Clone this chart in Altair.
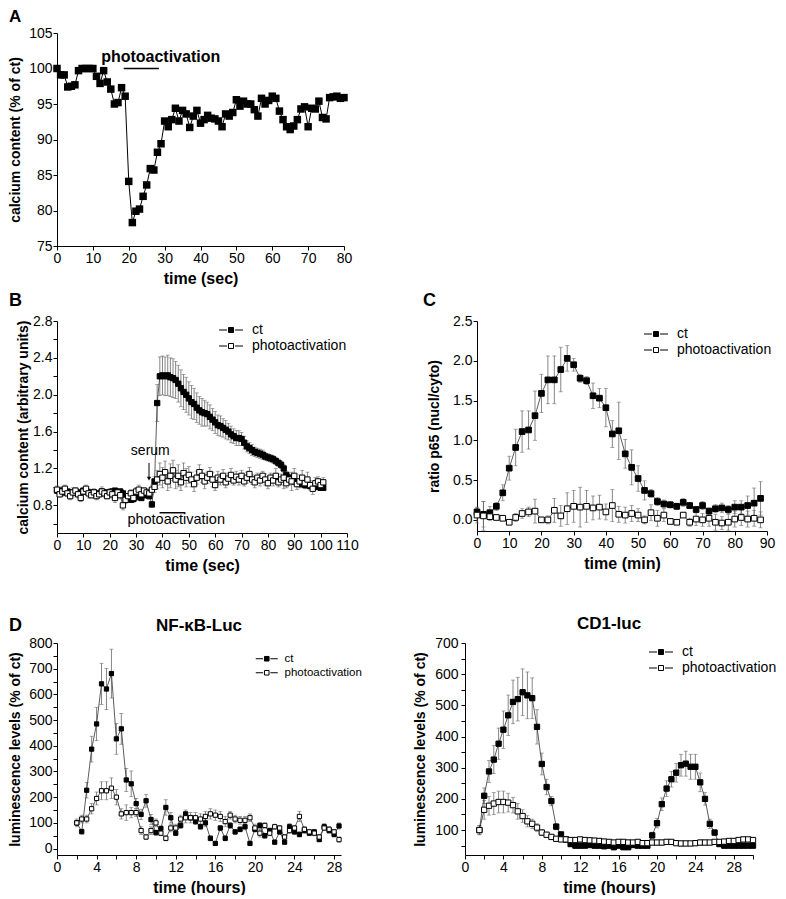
import altair as alt
import pandas as pd

FONT = "Liberation Sans"
SERIES = ["ct", "photoactivation"]
FILLS = ["black", "white"]
LEG_PATH = "M-4.8,0H-1.6M1.6,0H4.8M-1,-1H1V1H-1Z"

# ---------------- Panel A ----------------
A_TIME = list(range(0, 81))
A_CT = [100.0, 99.1, 99.1, 97.4, 97.5, 97.7, 99.7, 100.0, 100.0, 100.0,
        100.0, 98.9, 97.9, 99.7, 98.1, 97.1, 95.0, 95.2, 97.3, 96.1,
        84.1, 78.3, 79.9, 80.2, 82.0, 83.6, 85.9, 85.7, 88.2, 89.4,
        92.6, 91.8, 92.8, 94.4, 92.6, 94.1, 93.6, 91.7, 93.3, 94.1,
        92.3, 92.8, 93.4, 93.0, 92.9, 92.6, 91.8, 93.6, 93.3, 93.8,
        95.6, 94.7, 95.4, 95.0, 95.0, 94.2, 93.3, 95.8, 95.0, 95.5,
        96.1, 95.8, 94.0, 92.8, 91.8, 91.4, 91.9, 92.8, 94.3, 94.6,
        91.8, 94.4, 94.3, 95.4, 93.1, 92.9, 95.9, 96.0, 96.1, 95.8,
        95.9]
A_BAR_X = [18.6]
A_BAR_X2 = [28.4]
A_BAR_Y = [100.0]
A_LABEL = ["photoactivation"]
A_LABEL_X = [28.9]
A_LABEL_Y = [101.6]
PANEL_A = ["A"]

# ---------------- Panel B ----------------
B_TIME = list(range(0, 102))
B_CT = [0.96, 0.95, 0.96, 0.94, 0.95, 0.93, 0.94, 0.95, 0.93, 0.94,
        0.96, 0.95, 0.94, 0.93, 0.94, 0.92, 0.93, 0.95, 0.94, 0.93,
        0.94, 0.95, 0.96, 0.94, 0.95, 0.93, 0.90, 0.88, 0.86, 0.87,
        0.89, 0.90, 0.88, 0.91, 0.92, 0.90, 0.81, 1.06, 1.91, 2.20,
        2.21, 2.20, 2.21, 2.19, 2.18, 2.16, 2.12, 2.07, 2.03, 2.00,
        1.96, 1.92, 1.90, 1.86, 1.83, 1.81, 1.80, 1.79, 1.76, 1.73,
        1.70, 1.67, 1.66, 1.64, 1.62, 1.60, 1.57, 1.55, 1.53, 1.53,
        1.52, 1.48, 1.44, 1.42, 1.40, 1.38, 1.37, 1.36, 1.35, 1.33,
        1.32, 1.31, 1.30, 1.28, 1.26, 1.24, 1.20, 1.13, 1.10, 1.08,
        1.06, 1.05, 1.04, 1.03, 1.02, 1.02, 1.01, 1.01, 1.00, 1.00,
        0.99, 0.99]
B_CT_ERR = [0.03, 0.02, 0.03, 0.03, 0.02, 0.03, 0.03, 0.02, 0.03, 0.03,
            0.02, 0.03, 0.03, 0.02, 0.03, 0.03, 0.02, 0.03, 0.03, 0.02,
            0.03, 0.03, 0.02, 0.03, 0.03, 0.02, 0.03, 0.03, 0.02, 0.03,
            0.03, 0.02, 0.03, 0.03, 0.02, 0.03, 0.03, 0.05, 0.20, 0.21,
            0.21, 0.21, 0.22, 0.21, 0.21, 0.20, 0.20, 0.20, 0.19, 0.19,
            0.18, 0.18, 0.17, 0.16, 0.15, 0.15, 0.14, 0.13, 0.13, 0.12,
            0.12, 0.11, 0.11, 0.10, 0.10, 0.09, 0.09, 0.08, 0.08, 0.08,
            0.07, 0.07, 0.06, 0.06, 0.06, 0.05, 0.05, 0.05, 0.05, 0.04,
            0.04, 0.04, 0.04, 0.04, 0.04, 0.04, 0.04, 0.04, 0.03, 0.03,
            0.03, 0.03, 0.03, 0.03, 0.03, 0.03, 0.03, 0.03, 0.03, 0.03,
            0.03, 0.03]
B_PH = [0.97, 0.92, 0.95, 0.98, 0.93, 0.90, 0.94, 0.96, 0.92, 0.88,
        0.95, 0.98, 0.93, 0.91, 0.94, 0.90, 0.92, 0.95, 0.93, 0.90,
        0.94, 0.92, 0.88, 0.94, 0.91, 0.80, 0.86, 0.90, 0.93, 0.88,
        0.95, 0.97, 0.92, 0.96, 0.94, 0.93, 0.97, 1.00, 1.08, 1.14,
        1.10, 1.16, 1.06, 1.12, 1.18, 1.08, 1.12, 1.05, 1.15, 1.10,
        1.13, 1.08, 1.03, 1.10, 1.16, 1.12, 1.06, 1.10, 1.14, 1.08,
        1.02, 1.10, 1.08, 1.12, 1.05, 1.09, 1.13, 1.07, 1.11, 1.08,
        1.12, 1.06, 1.10, 1.14, 1.08, 1.05, 1.10, 1.07, 1.12, 1.08,
        1.04, 1.10, 1.07, 1.12, 1.05, 1.08, 1.10, 1.04, 1.08, 1.06,
        1.12, 1.03, 1.06, 1.10, 1.04, 1.08, 1.02, 0.98, 1.04, 1.06,
        1.02, 1.05]
B_PH_ERR = [0.04, 0.03, 0.05, 0.04, 0.03, 0.04, 0.05, 0.03, 0.04, 0.04,
            0.03, 0.04, 0.05, 0.03, 0.04, 0.04, 0.03, 0.05, 0.04, 0.03,
            0.04, 0.04, 0.05, 0.03, 0.04, 0.05, 0.04, 0.03, 0.04, 0.05,
            0.04, 0.05, 0.04, 0.03, 0.04, 0.04, 0.05, 0.06, 0.10, 0.12,
            0.11, 0.12, 0.10, 0.13, 0.11, 0.10, 0.12, 0.09, 0.11, 0.10,
            0.09, 0.08, 0.08, 0.07, 0.08, 0.07, 0.08, 0.06, 0.07, 0.08,
            0.06, 0.07, 0.06, 0.07, 0.06, 0.06, 0.07, 0.05, 0.06, 0.06,
            0.06, 0.05, 0.06, 0.07, 0.05, 0.06, 0.05, 0.06, 0.05, 0.06,
            0.06, 0.05, 0.06, 0.08, 0.05, 0.06, 0.12, 0.05, 0.06, 0.10,
            0.08, 0.06, 0.07, 0.08, 0.06, 0.08, 0.05, 0.06, 0.06, 0.05,
            0.06, 0.05]
B_SERUM = ["serum"]
B_SERUM_X = [35.4]
B_SERUM_Y = [1.39]
B_ARROW_X = [34.9]
B_ARROW_Y = [1.26]
B_ARROW_Y2 = [1.09]
B_BAR_X = [38.9]
B_BAR_X2 = [48.7]
B_BAR_Y = [0.72]
B_LABEL = ["photoactivation"]
B_LABEL_X = [45.2]
B_LABEL_Y = [0.64]

# ---------------- Panel C ----------------
C_TIME = list(range(0, 89, 2))
C_CT = [0.10, 0.07, 0.09, 0.17, 0.34, 0.65, 0.91, 1.11, 1.13, 1.31,
        1.59, 1.76, 1.76, 1.89, 2.03, 1.95, 1.78, 1.75, 1.56, 1.53,
        1.41, 1.08, 1.12, 0.83, 0.66, 0.52, 0.37, 0.33, 0.23, 0.20,
        0.19, 0.17, 0.22, 0.18, 0.13, 0.18, 0.11, 0.14, 0.15, 0.13,
        0.16, 0.16, 0.18, 0.21, 0.27]
C_CT_ERR = [0.05, 0.16, 0.08, 0.05, 0.10, 0.15, 0.23, 0.26, 0.24, 0.31,
            0.24, 0.30, 0.30, 0.28, 0.16, 0.08, 0.05, 0.05, 0.16, 0.12,
            0.24, 0.17, 0.36, 0.18, 0.22, 0.16, 0.12, 0.05, 0.05, 0.05,
            0.04, 0.04, 0.05, 0.04, 0.04, 0.05, 0.04, 0.05, 0.06, 0.05,
            0.08, 0.08, 0.12, 0.19, 0.21]
C_PH = [0.06, 0.05, 0.04, 0.03, 0.02, -0.03, 0.03, 0.08, 0.10, 0.11,
        0.00, 0.00, 0.12, 0.05, 0.14, 0.17, 0.16, 0.17, 0.15, 0.16,
        0.10, 0.18, 0.07, 0.06, 0.08, 0.06, 0.00, 0.09, 0.02, 0.06,
        -0.02, -0.03, 0.06, -0.03, 0.01, 0.00, 0.02, -0.03, -0.04, -0.03,
        0.01, 0.03, 0.01, 0.02, 0.00]
C_PH_ERR = [0.10, 0.18, 0.05, 0.03, 0.03, 0.03, 0.05, 0.06, 0.06, 0.15,
            0.03, 0.05, 0.15, 0.13, 0.20, 0.20, 0.25, 0.20, 0.15, 0.15,
            0.10, 0.20, 0.10, 0.10, 0.10, 0.08, 0.05, 0.10, 0.10, 0.08,
            0.03, 0.03, 0.03, 0.05, 0.08, 0.08, 0.10, 0.10, 0.08, 0.10,
            0.10, 0.10, 0.10, 0.10, 0.10]

# ---------------- Panel D (NF-kB-Luc) ----------------
DL_TIME = [2 + 0.5 * i for i in range(54)]
DL_CT = [100, 66, 227, 387, 485, 641, 621, 681, 427, 466,
         267, 252, 175, 133, 186, 113, 62, 78, 160, 120,
         60, 90, 135, 120, 105, 85, 100, 40, 20, 80,
         40, 90, 65, 75, 85, 20, 75, 90, 50, 70,
         25, 65, 25, 85, 65, 55, 70, 60, 65, 35,
         85, 70, 55, 88]
DL_CT_ERR = [10, 10, 30, 50, 65, 80, 80, 95, 60, 60,
             45, 50, 20, 20, 25, 20, 10, 10, 30, 20,
             10, 12, 15, 10, 12, 10, 15, 10, 8, 10,
             10, 12, 10, 10, 12, 8, 10, 12, 10, 10,
             8, 10, 8, 12, 10, 10, 10, 10, 10, 8,
             12, 10, 10, 12]
DL_PH = [100, 115, 115, 155, 195, 225, 225, 235, 200, 135,
         140, 140, 140, 70, 45, 70, 100, 60, 40, 80,
         80, 115, 120, 120, 120, 115, 125, 135, 130, 125,
         105, 130, 115, 110, 110, 120, 80, 60, 90, 60,
         85, 80, 45, 70, 80, 125, 75, 65, 60, 45,
         80, 75, 65, 35]
DL_PH_ERR = [15, 15, 15, 20, 25, 35, 35, 40, 30, 20,
             30, 20, 15, 15, 10, 15, 15, 10, 10, 15,
             15, 15, 20, 20, 20, 20, 20, 20, 20, 20,
             20, 15, 15, 15, 15, 15, 15, 15, 10, 10,
             10, 10, 10, 10, 10, 20, 10, 10, 10, 10,
             10, 10, 10, 10]
DL_TITLE = ["NF-\u03baB-Luc"]

# ---------------- Panel D (CD1-luc) ----------------
DR_TIME = [1.5 + 0.5 * i for i in range(58)]
DR_CT = [100, 210, 288, 326, 377, 422, 468, 511, 520, 542,
         532, 523, 431, 312, 238, 193, 111, 86, 70, 55,
         50, 50, 50, 52, 50, 50, 48, 50, 45, 50,
         45, 45, 52, 50, 50, 50, 83, 122, 183, 233,
         263, 284, 308, 313, 303, 303, 253, 200, 120, 92,
         55, 50, 50, 50, 50, 50, 50, 50]
DR_CT_ERR = [15, 25, 35, 45, 50, 60, 65, 70, 70, 75,
             75, 65, 55, 35, 25, 15, 10, 8, 8, 8,
             8, 8, 7, 8, 8, 7, 8, 8, 8, 7,
             8, 8, 8, 7, 8, 8, 10, 15, 20, 25,
             25, 30, 35, 40, 40, 40, 30, 20, 15, 10,
             8, 8, 7, 8, 8, 8, 7, 8]
DR_PH = [100, 165, 178, 185, 190, 190, 188, 180, 160, 145,
         128, 120, 108, 92, 85, 78, 72, 70, 70, 68,
         68, 70, 68, 67, 66, 65, 63, 62, 60, 62,
         62, 60, 60, 62, 58, 58, 60, 60, 60, 62,
         62, 58, 57, 57, 57, 58, 60, 60, 60, 62,
         62, 63, 65, 65, 68, 70, 70, 68]
DR_PH_ERR = [15, 30, 30, 35, 35, 35, 30, 25, 25, 20,
             18, 15, 12, 10, 8, 8, 8, 7, 8, 8,
             8, 7, 8, 8, 8, 7, 8, 8, 7, 8,
             8, 8, 7, 8, 8, 8, 7, 8, 8, 8,
             7, 8, 8, 8, 7, 8, 8, 8, 7, 8,
             8, 8, 7, 8, 8, 8, 7, 8]

PANEL_D = ["D"]


def frame(t, ct, ct_err, ph, ph_err):
    rows = []
    for name, vals, errs in (("ct", ct, ct_err), ("photoactivation", ph, ph_err)):
        for x, v, e in zip(t, vals, errs):
            rows.append({"t": x, "v": v, "lo": v - e, "hi": v + e, "s": name})
    return pd.DataFrame(rows)


def ax(title, values, fmt=None, expr=None, title_size=14, title_pad=6,
       label_pad=1, tick=4):
    kw = dict(title=title, values=values, grid=False, domainColor="black",
              domainWidth=1, tickColor="black", tickWidth=1, tickSize=tick,
              labelPadding=label_pad, labelFont=FONT, labelFontSize=14,
              labelColor="black", titleFont=FONT, titleFontSize=title_size,
              titleFontWeight="bold", titleColor="black", titlePadding=title_pad,
              labelOverlap=False, labelFlush=False)
    if fmt:
        kw["format"] = fmt
    if expr:
        kw["labelExpr"] = expr
    return alt.Axis(**kw)


def leg(x, y, fsize=14, ssize=25, lab_off=14, row_pad=2):
    return alt.Legend(title=None, orient="none", legendX=x, legendY=y,
                      symbolType=LEG_PATH, symbolSize=ssize,
                      symbolStrokeColor="black", symbolStrokeWidth=1,
                      symbolOffset=10, labelOffset=lab_off, labelFont=FONT,
                      labelFontSize=fsize, labelColor="black",
                      rowPadding=row_pad, padding=0, symbolOpacity=1)


def err_layers(df, xs, ys, xa, ya, psize, legend):
    base = alt.Chart(df)
    X = alt.X("t:Q", scale=xs, axis=xa)
    rule = base.mark_rule(color="#666", strokeWidth=0.8).encode(
        x=X, y=alt.Y("lo:Q", scale=ys, axis=ya), y2="hi:Q")
    cap_hi = base.mark_tick(orient="horizontal", color="#666", size=4,
                            thickness=0.8).encode(
        x=X, y=alt.Y("hi:Q", scale=ys, axis=ya))
    cap_lo = base.mark_tick(orient="horizontal", color="#666", size=4,
                            thickness=0.8).encode(
        x=X, y=alt.Y("lo:Q", scale=ys, axis=ya))
    line = base.mark_line(color="#333", strokeWidth=0.8).encode(
        x=X, y=alt.Y("v:Q", scale=ys, axis=ya), detail="s:N", order="t:Q")
    pts = base.mark_point(shape="square", filled=True, size=psize,
                          stroke="black", strokeWidth=1, opacity=1).encode(
        x=X, y=alt.Y("v:Q", scale=ys, axis=ya),
        fill=alt.Fill("s:N", scale=alt.Scale(domain=SERIES, range=FILLS),
                      legend=legend))
    return [rule, cap_hi, cap_lo, line, pts]


def letter_title(txt, dx, offset):
    return alt.TitleParams(text=txt, anchor="start", frame="group", dx=dx,
                           offset=offset, fontSize=18, font=FONT,
                           fontWeight="bold", color="black")


def letter_mark(lst, x, y, size=18):
    return alt.Chart(pd.DataFrame({"txt": lst})).mark_text(
        font=FONT, fontSize=size, fontWeight="bold", color="black", align="left",
        baseline="top").encode(text="txt:N", x=alt.value(x), y=alt.value(y))


# ---------- A ----------
dfA = pd.DataFrame({"t": A_TIME, "v": A_CT})
xsA = alt.Scale(domain=[0, 80], nice=False, zero=False)
ysA = alt.Scale(domain=[75, 105], nice=False, zero=False)
xaA = ax("time (sec)", list(range(0, 81, 10)), title_size=16, title_pad=5)
yaA = ax("calcium content (% of ct)", list(range(75, 106, 5)), title_pad=6)
XA = alt.X("t:Q", scale=xsA, axis=xaA)
YA = alt.Y("v:Q", scale=ysA, axis=yaA)
lineA = alt.Chart(dfA).mark_line(color="black", strokeWidth=1).encode(x=XA, y=YA)
ptsA = alt.Chart(dfA).mark_point(shape="square", filled=True, size=56,
                                 color="black", opacity=1).encode(x=XA, y=YA)
barA = alt.Chart(pd.DataFrame({"x": A_BAR_X, "x2": A_BAR_X2, "y": A_BAR_Y})).mark_rule(
    color="black", strokeWidth=1.5).encode(
    x=alt.X("x:Q", scale=xsA, axis=xaA), x2="x2:Q", y=alt.Y("y:Q", scale=ysA, axis=yaA))
labA = alt.Chart(pd.DataFrame({"x": A_LABEL_X, "y": A_LABEL_Y, "txt": A_LABEL})).mark_text(
    font=FONT, fontSize=16, fontWeight="bold", color="black", align="center",
    baseline="middle").encode(
    x=alt.X("x:Q", scale=xsA, axis=xaA), y=alt.Y("y:Q", scale=ysA, axis=yaA), text="txt:N")
chartA = alt.layer(lineA, ptsA, barA, labA, letter_mark(PANEL_A, -48, -24, 17)).properties(
    width=287, height=213)

# ---------- B ----------
dfB = frame(B_TIME, B_CT, B_CT_ERR, B_PH, B_PH_ERR)
xsB = alt.Scale(domain=[0, 110], nice=False, zero=False)
ysB = alt.Scale(domain=[0.5, 2.8], nice=False, zero=False)
xaB = ax("time (sec)", list(range(0, 111, 10)), title_size=16, title_pad=5)
yaB = ax("calcium content (arbitrary units)",
         [0.6, 0.8, 1.0, 1.2, 1.4, 1.6, 1.8, 2.0, 2.2, 2.4, 2.6, 2.8],
         fmt=".1f", expr="(round(datum.value*10) % 4 == 0) ? datum.label : ''",
         title_pad=2)
layersB = err_layers(dfB, xsB, ysB, xaB, yaB, 28, leg(157, 2))
serum = alt.Chart(pd.DataFrame({"x": B_SERUM_X, "y": B_SERUM_Y, "txt": B_SERUM})).mark_text(
    font=FONT, fontSize=14, color="black", align="center", baseline="middle").encode(
    x=alt.X("x:Q", scale=xsB, axis=xaB), y=alt.Y("y:Q", scale=ysB, axis=yaB), text="txt:N")
arrowDf = pd.DataFrame({"x": B_ARROW_X, "y": B_ARROW_Y, "y2": B_ARROW_Y2})
arrow = alt.Chart(arrowDf).mark_rule(color="black", strokeWidth=1).encode(
    x=alt.X("x:Q", scale=xsB, axis=xaB), y=alt.Y("y:Q", scale=ysB, axis=yaB), y2="y2:Q")
head = alt.Chart(arrowDf).mark_point(shape="triangle-down", filled=True, size=18,
                                     color="black", opacity=1).encode(
    x=alt.X("x:Q", scale=xsB, axis=xaB), y=alt.Y("y2:Q", scale=ysB, axis=yaB))
barB = alt.Chart(pd.DataFrame({"x": B_BAR_X, "x2": B_BAR_X2, "y": B_BAR_Y})).mark_rule(
    color="black", strokeWidth=1.5).encode(
    x=alt.X("x:Q", scale=xsB, axis=xaB), x2="x2:Q", y=alt.Y("y:Q", scale=ysB, axis=yaB))
labB = alt.Chart(pd.DataFrame({"x": B_LABEL_X, "y": B_LABEL_Y, "txt": B_LABEL})).mark_text(
    font=FONT, fontSize=14.5, color="black", align="center", baseline="middle").encode(
    x=alt.X("x:Q", scale=xsB, axis=xaB), y=alt.Y("y:Q", scale=ysB, axis=yaB), text="txt:N")
chartB = alt.layer(*layersB, serum, arrow, head, barB, labB).properties(
    width=290, height=212, title=letter_title("B", -48, 4))

# ---------- C ----------
dfC = frame(C_TIME, C_CT, C_CT_ERR, C_PH, C_PH_ERR)
xsC = alt.Scale(domain=[0, 90], nice=False, zero=False)
ysC = alt.Scale(domain=[-0.14, 2.5], nice=False, zero=False)
xaC = ax("time (min)", list(range(0, 91, 10)), title_size=16, title_pad=5)
yaC = ax("ratio p65 (nucl/cyto)", [0.0, 0.5, 1.0, 1.5, 2.0, 2.5], fmt=".1f",
         title_pad=11)
layersC = err_layers(dfC, xsC, ysC, xaC, yaC, 32, leg(162, 6))
chartC = alt.layer(*layersC).properties(
    width=290, height=210, title=letter_title("C", -54, 4))

# ---------- D left ----------
dfDL = frame(DL_TIME, DL_CT, DL_CT_ERR, DL_PH, DL_PH_ERR)
xsDL = alt.Scale(domain=[0, 28.7], nice=False, zero=False)
ysDL = alt.Scale(domain=[-25, 800], nice=False, zero=False)
xaDL = ax("time (hours)", list(range(0, 29, 2)), title_size=16, title_pad=5,
          expr="(datum.value % 4 == 0) ? datum.label : ''")
yaDL = ax("luminescence levels (% of ct)", list(range(0, 801, 50)),
          expr="(datum.value % 100 == 0) ? datum.label : ''", title_pad=6)
layersDL = err_layers(dfDL, xsDL, ysDL, xaDL, yaDL, 18,
                      leg(194, 10, fsize=11.5, ssize=21, lab_off=12, row_pad=1))
titleDL = alt.Chart(pd.DataFrame({"txt": DL_TITLE})).mark_text(
    font=FONT, fontSize=17, fontWeight="bold", color="black", align="center",
    baseline="alphabetic").encode(text="txt:N", x=alt.value(142), y=alt.value(-12))
chartDL = alt.layer(*layersDL, letter_mark(PANEL_D, -48, -26), titleDL).properties(
    width=284, height=212)

# ---------- D right ----------
dfDR = frame(DR_TIME, DR_CT, DR_CT_ERR, DR_PH, DR_PH_ERR)
xsDR = alt.Scale(domain=[0, 30], nice=False, zero=False)
ysDR = alt.Scale(domain=[20, 700], nice=False, zero=False)
xaDR = ax("time (hours)", list(range(0, 31, 2)), title_size=16, title_pad=5,
          expr="(datum.value % 4 == 0) ? datum.label : ''")
yaDR = ax("luminescence levels (% of ct)", list(range(50, 701, 50)),
          expr="(datum.value % 100 == 0) ? datum.label : ''", title_pad=7,
          label_pad=3)
layersDR = err_layers(dfDR, xsDR, ysDR, xaDR, yaDR, 28, leg(179, 2))
titleDR = alt.TitleParams(text="CD1-luc", anchor="middle", offset=3,
                          fontSize=17, font=FONT, fontWeight="bold", color="black")
chartDR = alt.layer(*layersDR).properties(width=288, height=212, title=titleDR)

row2 = alt.hconcat(chartB, chartC, spacing=64).resolve_scale(
    fill="independent").resolve_legend(fill="independent")
row3 = alt.hconcat(chartDL, chartDR, spacing=51).resolve_scale(
    fill="independent").resolve_legend(fill="independent")
upper = alt.vconcat(chartA, row2, spacing=6).resolve_scale(
    fill="independent").resolve_legend(fill="independent")
chart = alt.vconcat(upper, row3, spacing=42).resolve_scale(
    fill="independent").resolve_legend(fill="independent").properties(
    padding=0, background="white").configure_view(stroke=None)

chart.save("out.html", embed_options={"renderer": "svg", "actions": False})
